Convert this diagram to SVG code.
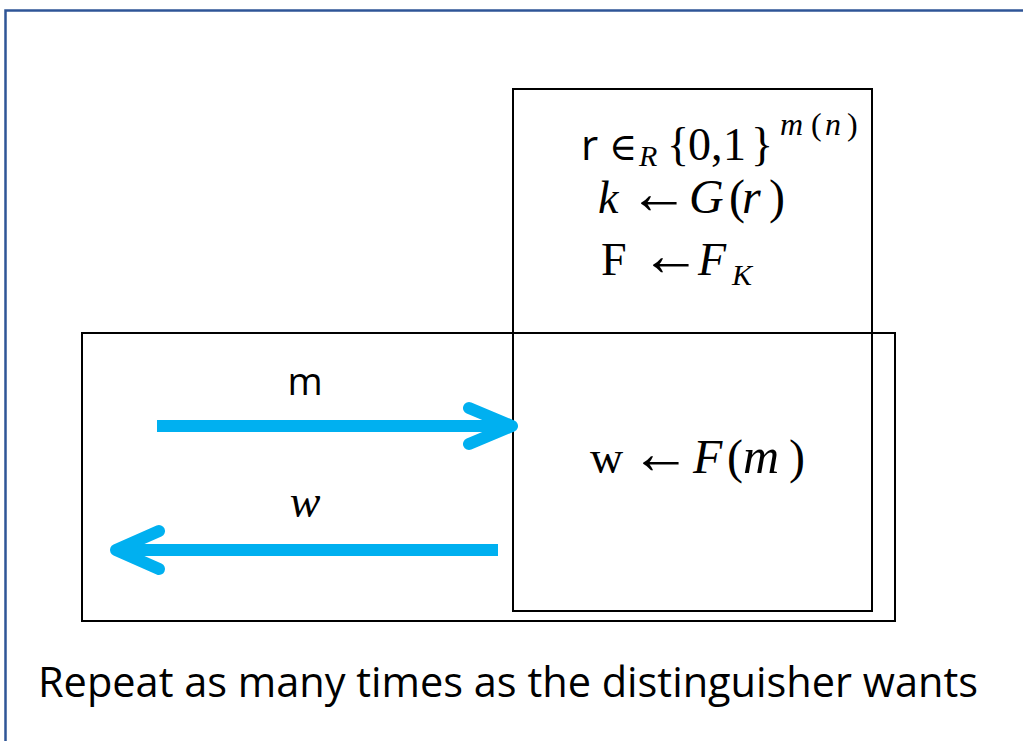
<svg xmlns="http://www.w3.org/2000/svg" width="1023" height="741" viewBox="0 0 1023 741">
<style>
.box{fill:none;stroke:#000;stroke-width:2}
.arr{fill:none;stroke:#00B0F0;stroke-width:12;stroke-linecap:round;stroke-linejoin:round}
.shaft{stroke:#00B0F0;stroke-width:12;stroke-linecap:butt}
.math{font-family:"Liberation Serif","DejaVu Serif",serif;font-size:46px;fill:#000}
.ar{font-family:"Liberation Serif",serif;font-size:60px}
.it{font-style:italic}
.sans{font-family:"Open Sans","Liberation Sans",sans-serif;fill:#000}
</style>
<rect x="0" y="0" width="1023" height="741" fill="#fff"/>
<g id="frame"><path d="M5.5,741 V10.5 H1023" fill="none" stroke="#2F5597" stroke-width="2.5"/></g>
<g id="outer-box"><rect class="box" x="82" y="333" width="813" height="288"/></g>
<g id="challenger-box"><rect class="box" x="513" y="89" width="359" height="522"/>
<text class="math" y="160"><tspan x="581" class="sans" font-size="42">r</tspan><tspan x="609" font-family="DejaVu Serif" font-size="38">∈</tspan><tspan x="639" class="it" font-size="30" dy="6">R</tspan><tspan dy="-6" x="667">{</tspan><tspan x="688">0</tspan><tspan x="711">,</tspan><tspan x="723">1</tspan><tspan x="751">}</tspan><tspan class="it" font-size="32" dy="-25" x="780">m</tspan><tspan x="811" font-size="32">(</tspan><tspan x="825" class="it" font-size="32">n</tspan><tspan x="847" font-size="32">)</tspan></text>
<text class="math" y="213"><tspan x="598" class="it">k</tspan><tspan x="629" class="ar">←</tspan><tspan x="689" class="it" font-size="48">G</tspan><tspan x="729" font-size="48">(</tspan><tspan x="742" class="it" font-size="48">r</tspan><tspan x="769" font-size="48">)</tspan></text>
<text class="math" y="275"><tspan x="601">F</tspan><tspan x="641" class="ar">←</tspan><tspan x="698" class="it">F</tspan><tspan x="732" class="it" font-size="30" dy="10">K</tspan></text>
<text class="math" y="473"><tspan x="590">w</tspan><tspan x="631" class="ar">←</tspan><tspan x="693" class="it" font-size="48">F</tspan><tspan x="727" font-size="48">(</tspan><tspan x="743" class="it" font-size="50">m</tspan><tspan x="789" font-size="48">)</tspan></text>
</g>
<g id="connectors">
<line class="shaft" x1="157" y1="426" x2="510" y2="426"/>
<polyline class="arr" points="469,408 512,426 469,444"/>
<line class="shaft" x1="498" y1="550" x2="118" y2="550"/>
<polyline class="arr" points="159,531 116,550 159,569"/>
</g>
<g id="labels">
<text class="sans" x="305" y="395" font-size="38" text-anchor="middle">m</text>
<text class="math it" x="305" y="517" text-anchor="middle">w</text>
<text class="sans" x="38" y="697" font-size="42" textLength="940" lengthAdjust="spacingAndGlyphs">Repeat as many times as the distinguisher wants</text>
</g>
</svg>
